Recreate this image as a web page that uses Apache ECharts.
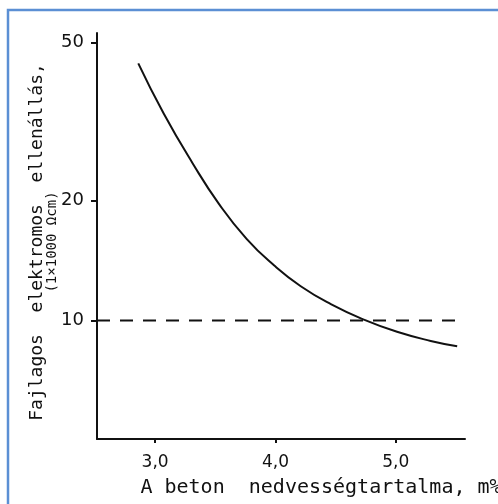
<!DOCTYPE html>
<html>
<head>
<meta charset="utf-8">
<script src="https://cdn.jsdelivr.net/npm/echarts@6/dist/echarts.min.js"></script>
<style>
  html, body { margin: 0; padding: 0; background: #fff; }
  #chart { width: 498px; height: 504px; }
</style>
</head>
<body>
<div id="chart"></div>
<script>
// moisture content (m%) vs. specific resistivity (x1000 Ohm cm)
const moisture = [2.86, 3.07, 3.31, 3.53, 3.76, 3.99, 4.21, 4.46, 4.74, 5.01, 5.29, 5.51]
const resistivity = [44.3, 33.2, 24.9, 19.65, 16.05, 13.75, 12.2, 11.0, 10.04, 9.37, 8.89, 8.62]

// dashed reference level
const refX = [2.517, 5.525]
const refY = [10, 10]

const xTicks = [3, 4, 5]
const yTicks = [10, 20, 50]

const FONT = 'DejaVu Sans'
const MONO = 'DejaVu Sans Mono'
const INK = '#111'

const chart = echarts.init(document.getElementById('chart'))

chart.setOption({
  backgroundColor: '#ffffff',
  animation: false,
  grid: {
    left: 97,
    right: 33,
    top: 33,
    bottom: 65,
    outerBoundsMode: 'none'
  },
  xAxis: {
    type: 'value',
    min: 2.517,
    max: 5.575,
    name: 'A beton  nedvességtartalma, m%',
    nameLocation: 'middle',
    nameGap: 39,
    nameTextStyle: {
      color: INK,
      fontFamily: MONO,
      fontSize: 20,
      padding: [0, 0, 0, 80]
    },
    axisLine: { lineStyle: { color: INK, width: 2 } },
    axisTick: {
      customValues: xTicks,
      length: 4,
      lineStyle: { color: INK, width: 2 }
    },
    axisLabel: {
      customValues: xTicks,
      margin: 15,
      color: INK,
      fontFamily: FONT,
      fontSize: 17,
      formatter: (v) => v.toFixed(1).replace('.', ',')
    },
    splitLine: { show: false }
  },
  yAxis: {
    type: 'log',
    logBase: 10,
    min: 5.04,
    max: 52.8,
    name: '{a|Fajlagos  elektromos  ellenállás,}\n{b|(1×1000 Ωcm)}',
    nameLocation: 'middle',
    nameGap: 38,
    nameMoveOverlap: false,
    nameRotate: 90,
    nameTextStyle: {
      color: INK,
      fontFamily: MONO,
      padding: [0, 12, 0, 0],
      rich: {
        a: { fontSize: 18, fontFamily: MONO, color: INK, lineHeight: 16 },
        b: { fontSize: 14, fontFamily: MONO, color: INK, lineHeight: 14 }
      }
    },
    axisLine: { lineStyle: { color: INK, width: 2 } },
    axisTick: {
      customValues: yTicks,
      length: 6,
      lineStyle: { color: INK, width: 2 }
    },
    axisLabel: {
      customValues: yTicks,
      margin: 13,
      color: INK,
      fontFamily: FONT,
      fontSize: 18
    },
    minorTick: { show: false },
    splitLine: { show: false }
  },
  graphic: [
    {
      type: 'rect',
      shape: { x: 8, y: 10, width: 560, height: 560 },
      style: { fill: 'none', stroke: '#5b8fd4', lineWidth: 2.5 },
      silent: true
    }
  ],
  series: [
    {
      type: 'line',
      data: moisture.map((x, i) => [x, resistivity[i]]),
      smooth: 0.5,
      symbol: 'none',
      lineStyle: { color: INK, width: 2 }
    },
    {
      type: 'line',
      data: refX.map((x, i) => [x, refY[i]]),
      symbol: 'none',
      lineStyle: { color: INK, width: 2, type: [13, 10] }
    }
  ]
})
</script>
</body>
</html>
